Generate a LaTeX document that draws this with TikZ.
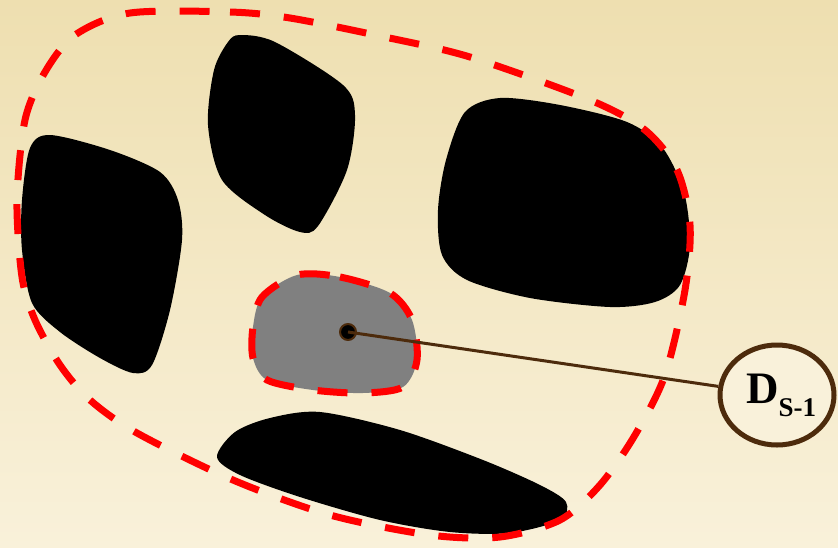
\documentclass[tikz,border=0pt]{standalone}
\usepackage{fontspec}
\setmainfont{Liberation Serif}
\usetikzlibrary{shapes.geometric}
\definecolor{bgTop}{HTML}{EEDFB0}
\definecolor{bgBot}{HTML}{F9F1DA}
\definecolor{lineBrown}{HTML}{4D2B0C}
\definecolor{blobGray}{HTML}{808080}
\tikzset{
	redline/.style={red, line width=7pt, dash pattern=on 30pt off 24pt},
	blob/.style={fill=black},
}
\begin{document}
\begin{tikzpicture}[x=1pt, y=-1pt, line join=round]
	\shade[top color=bgTop, bottom color=bgBot] (0,0) rectangle (838,547);
	\useasboundingbox (0,0) rectangle (838,547);
	% obstacles
	\fill[blob] plot[smooth cycle] coordinates {(50,135) (30,148) (22,200) (22,250) (32,303) (60,332) (100,358) (133,373) (152,365) (170,310) (182,240) (178,200) (160,172) (110,150)};
	\fill[blob] plot[smooth cycle] coordinates {(240,35) (275,42) (343,85) (355,115) (347,170) (318,226) (300,232) (265,215) (222,180) (208,125) (214,70) (228,42)};
	\fill[blob] plot[smooth cycle] coordinates {(500,98) (560,105) (627,122) (662,147) (684,192) (690,245) (680,285) (655,302) (610,307) (530,298) (467,280) (442,255) (438,210) (446,160) (465,112)};
	\fill[blob] plot[smooth cycle] coordinates {(217,457) (235,432) (270,418) (320,412) (400,430) (483,460) (540,485) (566,502) (560,520) (510,533) (450,532) (380,520) (300,497) (240,475)};
	% current region
	\draw[redline, fill=blobGray] plot[smooth cycle] coordinates {(297,275) (340,277) (390,293) (412,320) (417,360) (403,387) (363,393) (313,390) (267,380) (253,358) (253,327) (262,297)};
	% whole area
	\draw[redline] plot[smooth cycle] coordinates {(130,13) (230,12) (290,18) (380,36) (470,57) (590,100) (645,130) (677,170) (690,225) (685,290) (665,375) (635,435) (600,485) (560,520) (500,537) (430,535) (330,515) (233,480) (137,433) (90,400) (60,365) (35,320) (22,277) (17,200) (25,120) (45,72) (75,35)};
	\node[circle, draw=lineBrown, fill=black, line width=2pt, minimum size=16pt, inner sep=0] (src) at (348,332) {};
	\node[ellipse, draw=lineBrown, fill=bgBot, line width=5pt, minimum width=114pt, minimum height=100pt, inner sep=0] (lbl) at (777,395)
		{\hspace*{8pt}\fontsize{45}{50}\selectfont\bfseries D\raisebox{-13pt}{\fontsize{27}{30}\selectfont S-1}};
	\draw[lineBrown, line width=3pt] (src.center) -- (lbl);
\end{tikzpicture}
\end{document}
